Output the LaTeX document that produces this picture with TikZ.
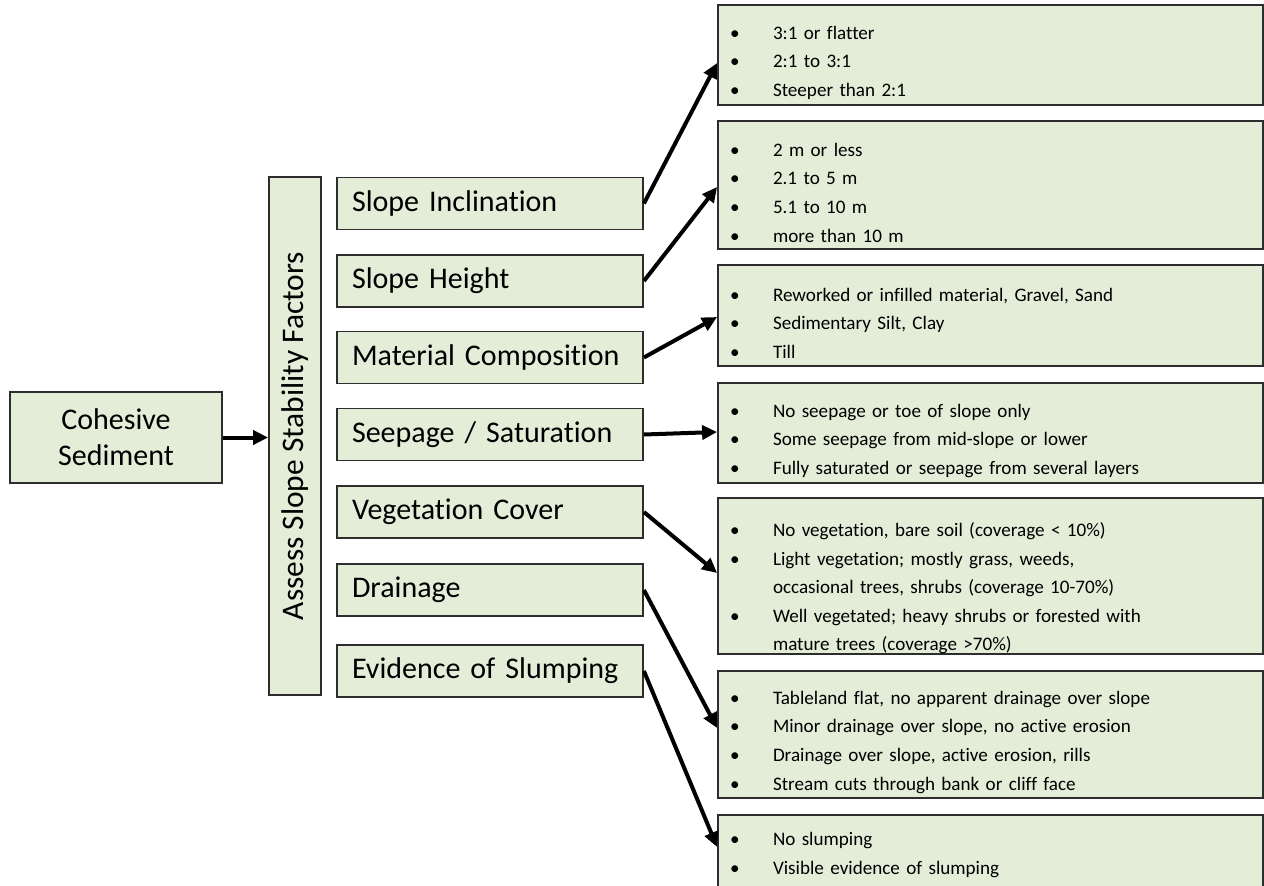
\documentclass[tikz,border=0pt]{standalone}
\usepackage{fontspec}
\setmainfont{Carlito}[Ligatures=NoCommon]
\usetikzlibrary{arrows.meta}
\definecolor{boxfill}{RGB}{227,237,216}
\definecolor{boxline}{RGB}{45,45,45}
\newcommand{\bitem}[1]{\par\hangindent=43pt\hangafter=1\noindent\makebox[43pt][l]{\textbullet}#1\par}
\newcommand{\detailsize}{\fontsize{19.1}{28.6}\selectfont}
\begin{document}
\begin{tikzpicture}[x=1pt,y=-1pt,
  gbox/.style={draw=boxline,line width=1.8pt,fill=boxfill,rectangle},
  factor/.style={gbox,minimum width=306pt,minimum height=52pt,text width=276pt,inner xsep=15pt,align=left,font=\fontsize{30}{36}\selectfont},
  detail/.style={gbox,minimum width=545pt,text width=521pt,inner xsep=12pt,inner ysep=0pt,align=left,font=\detailsize},
  arr/.style={line width=4pt,-{Triangle[length=15pt,width=14pt]}}]
\useasboundingbox[fill=white] (0,0) rectangle (1264,886);
\node[gbox,minimum width=212pt,minimum height=91pt,align=center,font=\fontsize{30}{36}\selectfont] (coh) at (116,437.5) {Cohesive\\Sediment};
\node[gbox,minimum width=52pt,minimum height=518pt] (bar) at (295,436) {};
\node[rotate=90,font=\fontsize{31.4}{36}\selectfont] (bartext) at (bar.center) {Assess Slope Stability Factors};
\node[factor] (f1) at (490,203.5) {Slope Inclination};
\node[factor] (f2) at (490,281) {Slope Height};
\node[factor] (f3) at (490,357.5) {Material Composition};
\node[factor] (f4) at (490,434.5) {Seepage / Saturation};
\node[factor] (f5) at (490,512) {Vegetation Cover};
\node[factor] (f6) at (490,590) {Drainage};
\node[factor] (f7) at (490,671) {Evidence of Slumping};
\node[detail,minimum height=100pt] (b1) at (990.5,55) {\bitem{3:1 or flatter}\bitem{2:1 to 3:1}\bitem{Steeper than 2:1}};
\node[detail,minimum height=128pt] (b2) at (990.5,185) {\bitem{2 m or less}\bitem{2.1 to 5 m}\bitem{5.1 to 10 m}\bitem{more than 10 m}};
\node[detail,minimum height=101pt] (b3) at (990.5,315.5) {\bitem{Reworked or infilled material, Gravel, Sand}\bitem{Sedimentary Silt, Clay}\bitem{Till}};
\node[detail,minimum height=100pt] (b4) at (990.5,433) {\bitem{No seepage or toe of slope only}\bitem{Some seepage from mid-slope or lower}\bitem{Fully saturated or seepage from several layers}};
\node[detail,minimum height=156pt] (b5) at (990.5,576) {\vspace*{10pt}\bitem{No vegetation, bare soil (coverage < 10\%)}\bitem{Light vegetation; mostly grass, weeds,\newline occasional trees, shrubs (coverage 10-70\%)}\bitem{Well vegetated; heavy shrubs or forested with\newline mature trees (coverage >70\%)}};
\node[detail,minimum height=127pt] (b6) at (990.5,734.5) {\bitem{Tableland flat, no apparent drainage over slope}\bitem{Minor drainage over slope, no active erosion}\bitem{Drainage over slope, active erosion, rills}\bitem{Stream cuts through bank or cliff face}};
\node[detail,minimum height=75pt] (b7) at (990.5,852.5) {\vspace*{-10pt}\bitem{No slumping}\bitem{Visible evidence of slumping}};
\draw[arr] (coh.east) -- (bar.west |- coh.east);
\draw[arr] (f1.east) -- ([yshift=-8pt]b1.west);
\draw[arr] (f2.east) -- ([yshift=-2pt]b2.west);
\draw[arr] (f3.east) -- ([yshift=-1.5pt]b3.west);
\draw[arr] (f4.east) -- ([yshift=1pt]b4.west);
\draw[arr] (f5.east) -- ([yshift=3pt]b5.west);
\draw[arr] (f6.east) -- ([yshift=6.5pt]b6.west);
\draw[arr] (f7.east) -- ([yshift=5.5pt]b7.west);
\end{tikzpicture}
\end{document}
